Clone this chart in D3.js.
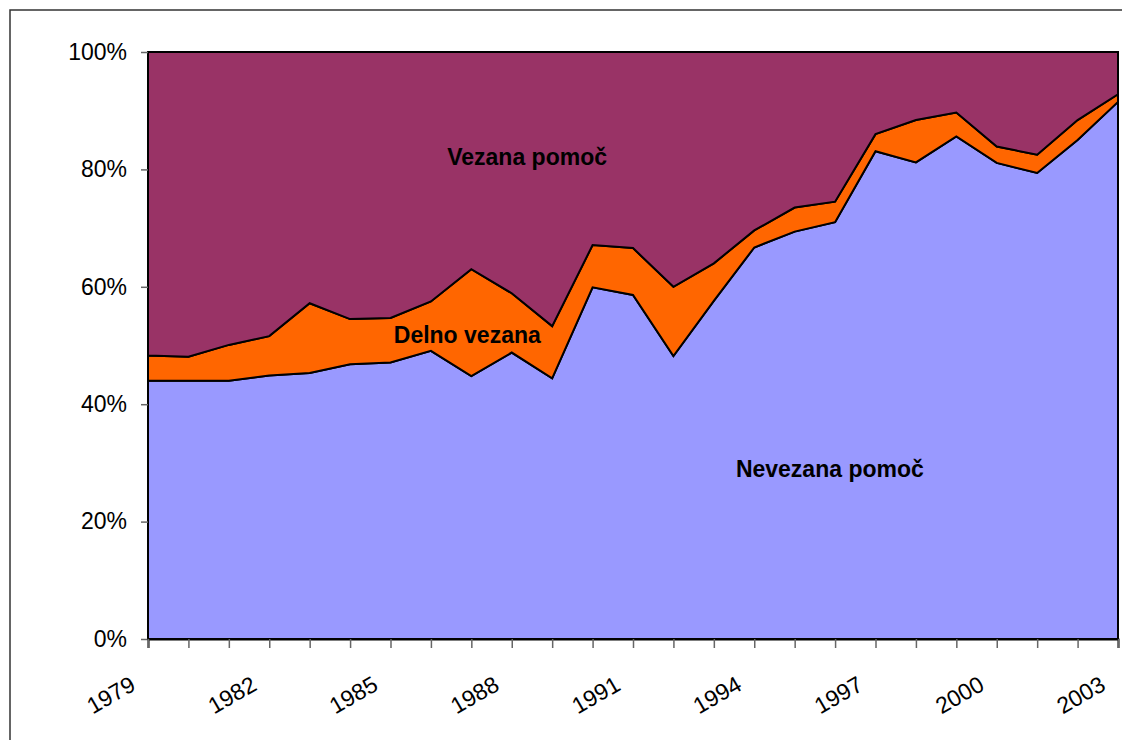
<!DOCTYPE html>
<meta charset="utf-8">
<style>
body { margin: 0; background: #fff; }
text { font-family: "Liberation Sans", Arial, sans-serif; fill: #000; }
.lbl { font-weight: bold; font-size: 23px; }
</style>
<svg width="1122" height="740"></svg>
<script src="https://d3js.org/d3.v7.min.js"></script>
<script>
// years on the category axis
const years = d3.range(1979, 2004);

// shares (%)
const nevezana = [44.0,44.0,44.0,44.9,45.3,46.8,47.1,49.1,44.8,48.8,44.4,59.9,58.6,48.2,57.6,66.7,69.4,71.0,83.1,81.2,85.6,81.1,79.4,85.0,91.5];
const delno    = [4.3,4.1,6.1,6.7,11.9,7.7,7.6,8.4,18.2,10.1,8.9,7.2,8.0,11.8,6.4,2.9,4.1,3.5,2.9,7.2,4.1,2.8,3.1,3.4,1.3];
const vezana   = [51.7,51.9,49.9,48.4,42.8,45.5,45.3,42.5,37.0,41.1,46.7,32.9,33.4,40.0,36.0,30.4,26.5,25.5,14.0,11.6,10.3,16.1,17.5,11.6,7.2];

const seriesKeys = ["nevezana", "delno", "vezana"];
const seriesColors = ["#9999ff", "#ff6600", "#993366"];
const yTicks = [0, 0.2, 0.4, 0.6, 0.8, 1];
const xLabelYears = [1979, 1982, 1985, 1988, 1991, 1994, 1997, 2000, 2003];

// in-chart labels: [text, year, share]
const areaLabels = [
  ["Vezana pomoč", 1988.38, 0.821],
  ["Delno vezana", 1986.9, 0.518],
  ["Nevezana pomoč", 1995.87, 0.29]
];

const rows = years.map((y, i) => ({year: y, nevezana: nevezana[i], delno: delno[i], vezana: vezana[i]}));

const svg = d3.select("svg");

// outer frame
svg.append("rect")
  .attr("x", 10).attr("y", 10)
  .attr("width", 1130).attr("height", 760)
  .attr("fill", "none").attr("stroke", "#333").attr("stroke-width", 1.5);

const x = d3.scaleLinear().domain([1979, 2003]).range([148, 1118]);
const y = d3.scaleLinear().domain([0, 1]).range([639, 52]);

const stack = d3.stack().keys(seriesKeys).offset(d3.stackOffsetExpand);
const layers = stack(rows);

const area = d3.area()
  .x(d => x(d.data.year))
  .y0(d => y(d[0]))
  .y1(d => y(d[1]));

svg.append("g")
  .selectAll("path")
  .data(layers)
  .enter()
  .append("path")
  .attr("d", area)
  .attr("fill", (d, i) => seriesColors[i])
  .attr("stroke", "#000")
  .attr("stroke-width", 2)
  .attr("stroke-linejoin", "miter");

// y axis
const yAxis = svg.append("g")
  .attr("transform", "translate(148,0)")
  .call(d3.axisLeft(y).tickValues(yTicks).tickFormat(d3.format(".0%")).tickSize(7).tickPadding(14));
yAxis.select(".domain").remove();
yAxis.selectAll(".tick line").attr("stroke", "#666").attr("stroke-width", 1.5);
yAxis.selectAll(".tick text").style("font-size", "23px").attr("fill", "#000");

// x axis
const xAxis = svg.append("g")
  .attr("transform", "translate(0,639)")
  .call(d3.axisBottom(x).tickValues(years).tickFormat("").tickSize(9));
xAxis.select(".domain").attr("stroke", "#000").attr("stroke-width", 2);
xAxis.selectAll(".tick line").attr("stroke", "#666").attr("stroke-width", 1.5);

svg.append("g")
  .selectAll("text")
  .data(xLabelYears)
  .enter()
  .append("text")
  .attr("transform", d => `translate(${x(d) - 15},682) rotate(-30)`)
  .attr("text-anchor", "end")
  .attr("dy", "0.35em")
  .style("font-size", "23px")
  .text(d => d);

svg.append("g")
  .selectAll("text")
  .data(areaLabels)
  .enter()
  .append("text")
  .attr("class", "lbl")
  .attr("x", d => x(d[1]))
  .attr("y", d => y(d[2]))
  .attr("dy", "0.35em")
  .attr("text-anchor", "middle")
  .text(d => d[0]);
</script>
